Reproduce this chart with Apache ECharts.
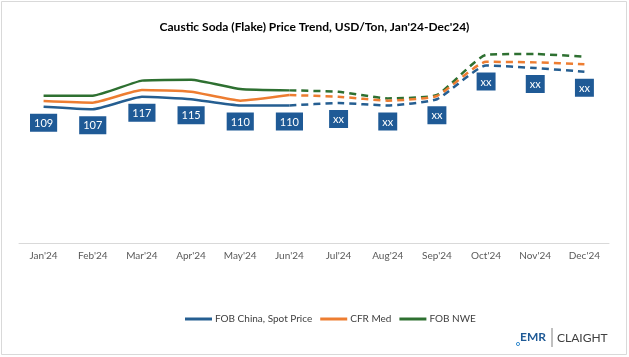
<!DOCTYPE html>
<html>
<head>
<meta charset="utf-8">
<script src="https://cdn.jsdelivr.net/npm/echarts@6/dist/echarts.min.js"></script>
<style>html,body{margin:0;padding:0;background:#fff}#c{width:629px;height:357px}</style>
</head>
<body>
<div id="c"></div>
<script>
var months = ["Jan'24","Feb'24","Mar'24","Apr'24","May'24","Jun'24","Jul'24","Aug'24","Sep'24","Oct'24","Nov'24","Dec'24"];
var fobChina = [109, 107, 117, 115, 110, 110, 112, 110, 115, 142, 140, 137];
var cfrMed   = [113.6, 112.3, 122.4, 121, 113.9, 118.4, 117, 113.9, 117.6, 145, 144.5, 143];
var fobNwe   = [117.9, 117.9, 129.9, 130.7, 123.2, 122.1, 121, 115.7, 118.4, 150.5, 151.2, 149];
var fobChinaLabels = ["109","107","117","115","110","110","xx","xx","xx","xx","xx","xx"];
var seriesNames = ["FOB China, Spot Price", "CFR Med", "FOB NWE"];
var colors = ["#255E91", "#ED7D31", "#2E7031"];
var lastActual = 5;

var FONT = "Lato";
var labelStyle = {
  position: 'bottom', distance: 7, backgroundColor: '#1F5A96', color: '#fff', opacity: 1,
  fontFamily: FONT, fontSize: 11, padding: [4, 4, 3, 4]
};

function build(values, name, color, labels) {
  var solid = values.map(function (v, i) {
    if (i > lastActual) return null;
    var d = { value: v };
    d.label = labels ? Object.assign({ show: true, formatter: labels[i] }, labelStyle) : { show: false };
    return d;
  });
  var dashed = values.map(function (v, i) {
    if (i < lastActual) return null;
    var d = { value: v };
    d.label = (labels && i > lastActual) ? Object.assign({ show: true, formatter: labels[i] }, labelStyle) : { show: false };
    return d;
  });
  var common = { type: 'line', symbol: 'circle', symbolSize: 0.01, showSymbol: true, smooth: 0.15, z: 3,
    itemStyle: { color: color } };
  return [
    Object.assign({ name: name, data: solid, lineStyle: { color: color, width: 2.5 } }, common),
    Object.assign({ name: name, data: dashed, lineStyle: { color: color, width: 2.5, type: [7, 5] } }, common)
  ];
}

var series = []
  .concat(build(fobNwe, seriesNames[2], colors[2], null))
  .concat(build(cfrMed, seriesNames[1], colors[1], null))
  .concat(build(fobChina, seriesNames[0], colors[0], fobChinaLabels));

var chart = echarts.init(document.getElementById('c'));
chart.setOption({
  animation: false,
  backgroundColor: '#fff',
  title: {
    text: "Caustic Soda (Flake) Price Trend, USD/Ton, Jan'24-Dec'24)",
    left: 'center', top: 16,
    textStyle: { fontFamily: FONT, fontSize: 12, fontWeight: 'bold', color: '#000' }
  },
  legend: {
    data: seriesNames.map(function (n, i) { return { name: n, itemStyle: { color: colors[i], opacity: 1 } }; }),
    left: 180, top: 309, itemGap: 8, itemWidth: 27, itemHeight: 3,
    icon: 'rect',
    textStyle: { fontFamily: FONT, fontSize: 10, color: '#404040', padding: [0, 0, 0, -2] }
  },
  grid: { left: 19, right: 20, top: 43, bottom: 114 },
  xAxis: {
    type: 'category', data: months, boundaryGap: true,
    axisLine: { lineStyle: { color: '#D9D9D9' } },
    axisTick: { inside: true, length: 3, lineStyle: { color: '#D9D9D9' } },
    axisLabel: { fontFamily: FONT, fontSize: 10, color: '#595959', margin: 8 }
  },
  yAxis: { type: 'value', min: 0, max: 160, show: false, splitLine: { show: false } },
  series: series,
  graphic: [
    { type: 'rect', shape: { x: 1.5, y: 1.5, width: 625, height: 353 }, style: { fill: 'none', stroke: '#D9D9D9', lineWidth: 1 } },
    { type: 'text', left: 520, top: 331, style: { text: 'EMR', fontFamily: FONT, fontWeight: 'bold', fontSize: 12, fill: '#1F5A96' } },
    { type: 'circle', shape: { cx: 518, cy: 344, r: 1.6 }, style: { fill: 'none', stroke: '#3A8FD0', lineWidth: 1 } },
    { type: 'line', shape: { x1: 552, y1: 328, x2: 552, y2: 347 }, style: { stroke: '#808080', lineWidth: 1 } },
    { type: 'text', left: 557, top: 332, style: { text: 'CLAIGHT', fontFamily: FONT, fontSize: 12, fill: '#404040', letterSpacing: 1.5 } }
  ]
});
</script>
</body>
</html>
